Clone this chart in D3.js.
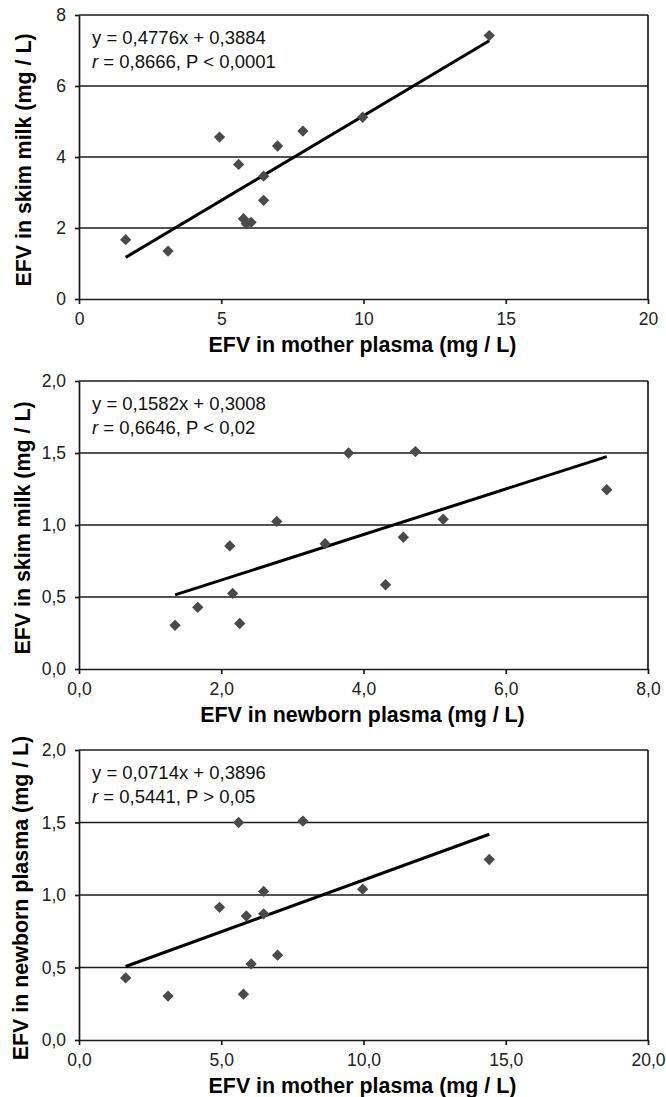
<!DOCTYPE html>
<html>
<head>
<meta charset="utf-8">
<script src="https://cdn.jsdelivr.net/npm/d3@7"></script>
<style>
  body { margin: 0; background: #fff; }
  text { font-family: "Liberation Sans", Arial, sans-serif; }
</style>
</head>
<body>
<div class="chart"></div>
<script>
// one value per subject (13 mother / newborn pairs)
var motherPlasma  = [1.64, 3.13, 4.94, 5.61, 5.78, 5.88, 6.05, 6.49, 6.49, 6.98, 7.87, 9.97, 14.42];
var skimMilk      = [1.67, 1.35, 4.56, 3.79, 2.26, 2.12, 2.16, 2.78, 3.46, 4.31, 4.73, 5.12, 7.42];
var newbornPlasma = [0.428, 0.303, 0.915, 1.50, 0.316, 0.855, 0.525, 1.025, 0.87, 0.585, 1.51, 1.04, 1.245];

// regression lines printed on the panels
var slopes     = [0.4776, 0.1582, 0.0714];
var intercepts = [0.3884, 0.3008, 0.3896];
var eqLabels   = ["y = 0,4776x + 0,3884", "y = 0,1582x + 0,3008", "y = 0,0714x + 0,3896"];
var rLabels    = [" = 0,8666, P < 0,0001", " = 0,6646, P < 0,02", " = 0,5441, P > 0,05"];

var xTitles = ["EFV in mother plasma (mg / L)", "EFV in newborn plasma (mg / L)", "EFV in mother plasma (mg / L)"];
var yTitles = ["EFV in skim milk (mg / L)", "EFV in skim milk (mg / L)", "EFV in newborn plasma (mg / L)"];

var xTicks = [[0, 5, 10, 15, 20], [0, 2, 4, 6, 8], [0, 5, 10, 15, 20]];
var yTicks = [[0, 2, 4, 6, 8], [0, 0.5, 1, 1.5, 2], [0, 0.5, 1, 1.5, 2]];

var svgWidth = 666, svgHeight = 1097;
var left = 79, right = 648;

var svg = d3.select(".chart").append("svg")
  .attr("width", svgWidth)
  .attr("height", svgHeight);

var comma = function(d) { return d.toFixed(1).replace(".", ","); };

var panels = [
  { xs: motherPlasma, ys: skimMilk, top: 15, bottom: 299, xMax: 20, yMax: 8,
    xFmt: d3.format("d"), yFmt: d3.format("d"), yTitleX: 31 },
  { xs: skimMilk, ys: newbornPlasma, top: 381, bottom: 669, xMax: 8, yMax: 2,
    xFmt: comma, yFmt: comma, yTitleX: 30 },
  { xs: motherPlasma, ys: newbornPlasma, top: 750, bottom: 1040, xMax: 20, yMax: 2,
    xFmt: comma, yFmt: comma, yTitleX: 28 }
];

panels.forEach(function(p, i) {
  var x = d3.scaleLinear().domain([0, p.xMax]).range([left, right]);
  var y = d3.scaleLinear().domain([0, p.yMax]).range([p.bottom, p.top]);
  var g = svg.append("g");

  // horizontal grid lines
  g.selectAll(".grid")
    .data(yTicks[i].filter(function(t) { return t > 0; }))
    .enter()
    .append("line")
    .attr("x1", left).attr("x2", right)
    .attr("y1", d => y(d)).attr("y2", d => y(d))
    .attr("stroke", "#1a1a1a")
    .attr("stroke-width", 1.7);

  // right border
  g.append("line")
    .attr("x1", right).attr("x2", right)
    .attr("y1", y(p.yMax)).attr("y2", y(0))
    .attr("stroke", "#1a1a1a")
    .attr("stroke-width", 1.7);

  var xAxis = d3.axisBottom(x).tickValues(xTicks[i]).tickFormat(p.xFmt)
    .tickSize(5).tickSizeOuter(0).tickPadding(9);
  var yAxis = d3.axisLeft(y).tickValues(yTicks[i]).tickFormat(p.yFmt)
    .tickSize(4).tickSizeOuter(0).tickPadding(9);

  var gx = g.append("g").attr("transform", `translate(0, ${p.bottom})`).call(xAxis);
  var gy = g.append("g").attr("transform", `translate(${left}, 0)`).call(yAxis);
  [gx, gy].forEach(function(a) {
    a.selectAll("path, line").attr("stroke", "#1a1a1a").attr("stroke-width", 1.7);
    a.selectAll("text")
      .attr("font-family", "Liberation Sans, Arial, sans-serif")
      .attr("font-size", "17.5px")
      .attr("fill", "#222");
  });

  // regression line
  var ext = d3.extent(p.xs);
  g.append("line")
    .attr("x1", x(ext[0])).attr("y1", y(slopes[i] * ext[0] + intercepts[i]))
    .attr("x2", x(ext[1])).attr("y2", y(slopes[i] * ext[1] + intercepts[i]))
    .attr("stroke", "#000")
    .attr("stroke-width", 3);

  // diamonds
  var pts = p.xs.map(function(v, k) { return [v, p.ys[k]]; });
  g.selectAll(".pt")
    .data(pts)
    .enter()
    .append("path")
    .attr("d", d3.symbol(d3.symbolSquare, 64))
    .attr("transform", d => `translate(${x(d[0])}, ${y(d[1])}) rotate(45)`)
    .attr("fill", "#4a4a4a");

  // equation text
  g.append("text")
    .attr("x", 92).attr("y", p.top + 29)
    .attr("font-size", "18.5px").attr("fill", "#111")
    .text(eqLabels[i]);
  var rt = g.append("text")
    .attr("x", 92).attr("y", p.top + 53)
    .attr("font-size", "18.5px").attr("fill", "#111");
  rt.append("tspan").attr("font-style", "italic").text("r");
  rt.append("tspan").text(rLabels[i]);

  // axis titles
  g.append("text")
    .attr("x", (left + right) / 2 - 1).attr("y", p.bottom + 53)
    .attr("text-anchor", "middle")
    .attr("font-size", "21.4px").attr("font-weight", "bold")
    .text(xTitles[i]);
  g.append("text")
    .attr("transform", `translate(${p.yTitleX}, ${(p.top + p.bottom) / 2 + 3}) rotate(-90)`)
    .attr("text-anchor", "middle")
    .attr("font-size", "21.4px").attr("font-weight", "bold")
    .text(yTitles[i]);
});
</script>
</body>
</html>
